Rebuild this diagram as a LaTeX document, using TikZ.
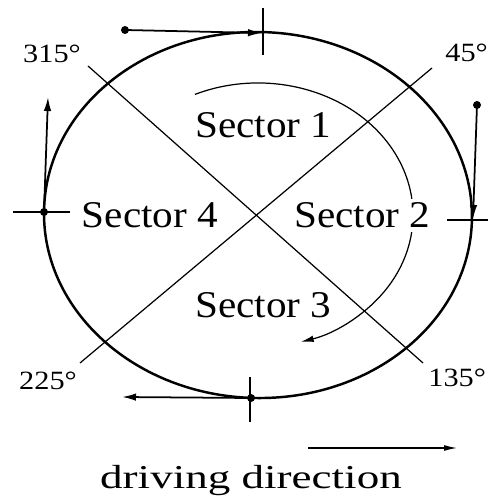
\documentclass[tikz,border=0pt]{standalone}
\usepackage{fontspec}
\setmainfont{Liberation Serif}
\newfontfamily\sectorfont{Liberation Serif}[FakeStretch=1.09]
\newfontfamily\anglefont{Liberation Serif}[FakeStretch=1.15]
\newfontfamily\captionfont{Liberation Serif}[FakeStretch=1.35]
\usetikzlibrary{arrows.meta}

\begin{document}
\begin{tikzpicture}[x=0.02cm, y=0.02cm,
  rim/.style={line width=1.4pt},
  axisline/.style={line width=0.7pt},
  mover/.style={line width=1pt, -{Latex[length=0.28cm,width=0.15cm]}},
  endpoint/.style={circle, fill, inner sep=0pt, minimum size=0.16cm},
  sectorlabel/.style={anchor=base, inner sep=2pt, font=\sectorfont\fontsize{21.5}{24}\selectfont},
  anglelabel/.style={anchor=base, inner sep=0pt, font=\anglefont\fontsize{15}{18}\selectfont}]
  \useasboundingbox (0,0) rectangle (488,496);
  \coordinate (c) at (258,281);

  % wheel rim and the two diagonals
  \draw[rim, rotate around={-1.5:(c)}] (c) ellipse[x radius=214, y radius=183];
  \draw[axisline] (88,430) -- (423,133);
  \draw[axisline] (432,428) -- (80,133);

  % ticks at top, left, right, bottom
  \draw[axisline] (263,488) -- (263,441);
  \draw[axisline] (13,284) -- (70,284);
  \draw[axisline] (447,276) -- (488,276);
  \draw[axisline] (250,119) -- (250,74);

  % rotation inside
  \draw[axisline, -{Latex[length=0.26cm,width=0.13cm]}]
    ([shift={(114:155 and 132)}]c) arc[start angle=114, end angle=-74, x radius=155, y radius=132];

  % motion of the contact points
  \node[endpoint] (topstart) at (125,466) {};
  \coordinate (toptip) at (262,463);
  \draw[mover] (topstart.center) -- (toptip);
  \node[endpoint] (rightstart) at (477,391) {};
  \coordinate (righttip) at (473,277);
  \draw[mover] (rightstart.center) -- (righttip);
  \node[endpoint] (bottomstart) at (251,98) {};
  \coordinate (bottomtip) at (122,99);
  \draw[mover] (bottomstart.center) -- (bottomtip);
  \node[endpoint] (leftstart) at (44,284) {};
  \coordinate (lefttip) at (48,399);
  \draw[mover] (leftstart.center) -- (lefttip);

  % sectors
  \node[sectorlabel] (s1) at (263.5,358) {Sector 1};
  \node[sectorlabel, fill=white] (s2) at (362.5,268) {Sector 2};
  \node[sectorlabel] (s3) at (263.5,178) {Sector 3};
  \node[sectorlabel] (s4) at (150,268) {Sector 4};

  % angles
  \node[anglelabel] (a315) at (52,433) {315°};
  \node[anglelabel, anchor=base west] (a45) at (445,434) {45°};
  \node[anglelabel] (a225) at (48,106) {225°};
  \node[anglelabel, anchor=base west] (a135) at (428,109) {135°};

  % driving direction
  \node[anchor=base, inner sep=0pt, font=\captionfont\fontsize{19}{22}\selectfont] (cap) at (251,8) {driving direction};
  \coordinate (dirstart) at (308,48);
  \coordinate (dirtip) at (457,48);
  \draw[axisline, -{Latex[length=0.26cm,width=0.12cm]}] (dirstart) -- (dirtip);
\end{tikzpicture}
\end{document}
